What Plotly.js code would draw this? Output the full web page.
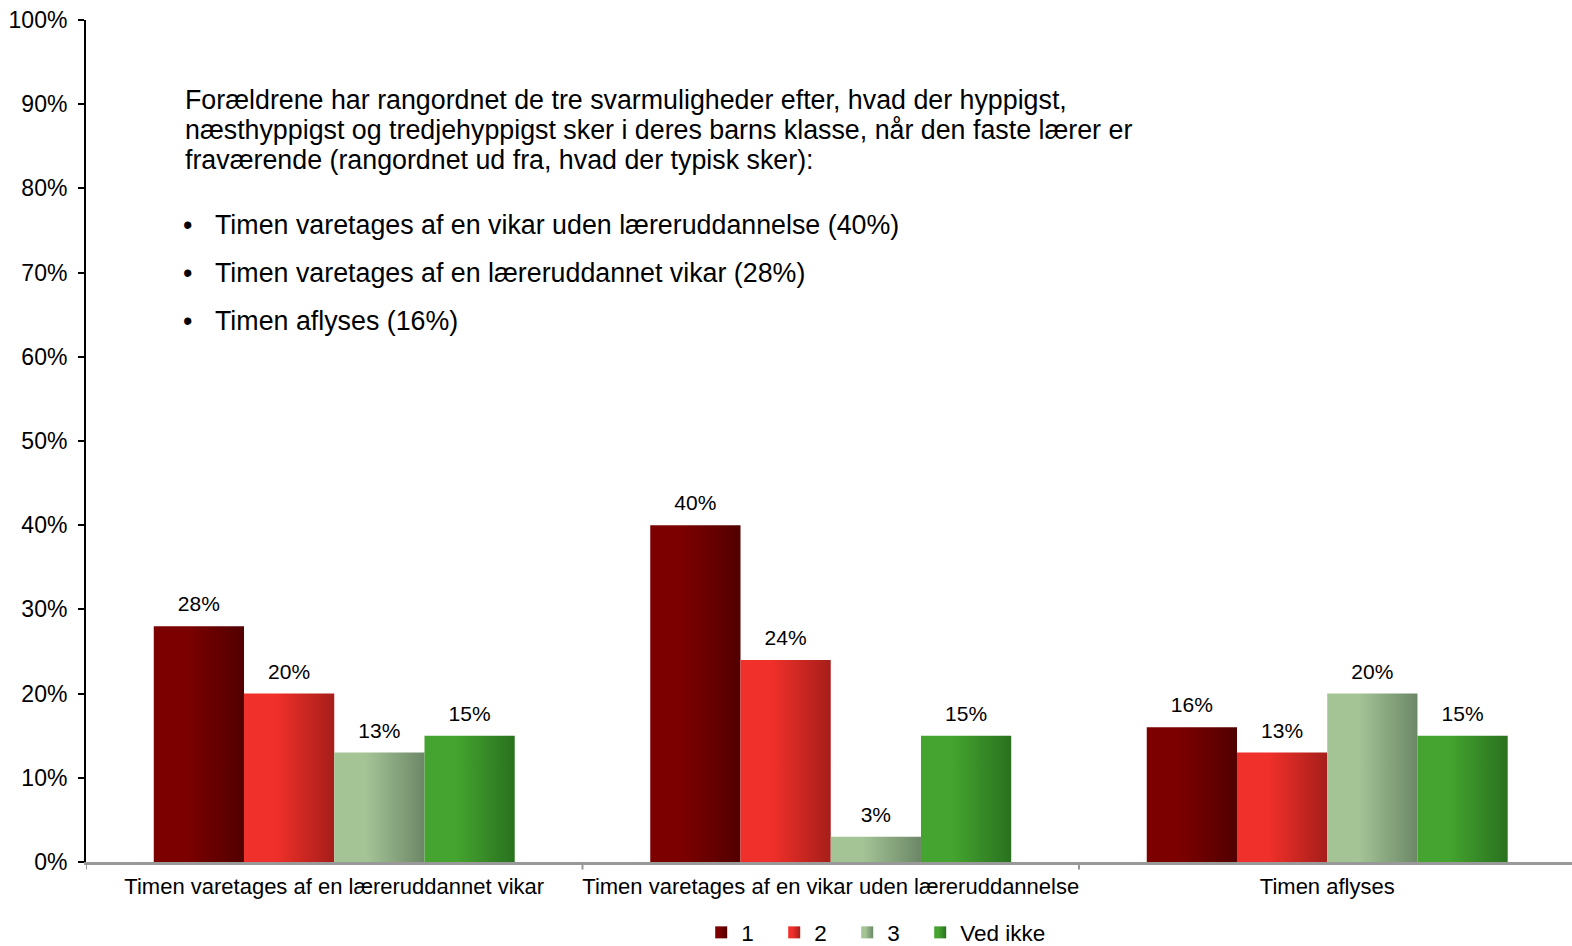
<!DOCTYPE html>
<html>
<head>
<meta charset="utf-8">
<script src="https://cdn.plot.ly/plotly-3.0.1.min.js"></script>
<style>
  body { margin: 0; background: #fff; }
  #chart { width: 1572px; height: 946px; }
</style>
</head>
<body>
<div id="chart"></div>
<script>
var categories = ['Timen varetages af en læreruddannet vikar',
                  'Timen varetages af en vikar uden læreruddannelse',
                  'Timen aflyses'];
var rank1 = [28, 40, 16];
var rank2 = [20, 24, 13];
var rank3 = [13, 3, 20];
var vedIkke = [15, 15, 15];

var seriesNames = ['1', '2', '3', 'Ved ikke'];
var seriesValues = [rank1, rank2, rank3, vedIkke];
// left/right colour of each bar's horizontal gradient
var gradStops = [
  ['#7c0000', '#520000'],
  ['#f0302a', '#a61e1a'],
  ['#a4c496', '#6c8767'],
  ['#44a42f', '#2a711f']
];

var introLines = [
  'Forældrene har rangordnet de tre svarmuligheder efter, hvad der hyppigst,',
  'næsthyppigst og tredjehyppigst sker i deres barns klasse, når den faste lærer er',
  'fraværende (rangordnet ud fra, hvad der typisk sker):'
];
var bullets = [
  'Timen varetages af en vikar uden læreruddannelse (40%)',
  'Timen varetages af en læreruddannet vikar (28%)',
  'Timen aflyses (16%)'
];

var fontFam = 'Arial, "Liberation Sans", sans-serif';

var data = seriesValues.map(function (vals, i) {
  return {
    type: 'bar',
    name: seriesNames[i],
    x: categories,
    y: vals,
    text: vals.map(function (v) { return v + '%'; }),
    textposition: 'outside',
    cliponaxis: false,
    textfont: { family: fontFam, size: 21, color: '#000' },
    marker: { color: gradStops[i][0], line: { width: 0 } },
    hoverinfo: 'skip'
  };
});

var annotations = [];
introLines.forEach(function (t, i) {
  annotations.push({
    xref: 'paper', yref: 'paper', x: 0.065, y: 0.905 - i * 0.0356,
    xanchor: 'left', yanchor: 'middle', showarrow: false, text: t,
    font: { family: fontFam, size: 26.8, color: '#000' }
  });
});
bullets.forEach(function (t, i) {
  var yy = 0.757 - i * 0.057;
  annotations.push({
    xref: 'paper', yref: 'paper', x: 0.064, y: yy,
    xanchor: 'left', yanchor: 'middle', showarrow: false, text: '•',
    font: { family: fontFam, size: 26.8, color: '#000' }
  });
  annotations.push({
    xref: 'paper', yref: 'paper', x: 0.0855, y: yy,
    xanchor: 'left', yanchor: 'middle', showarrow: false, text: t,
    font: { family: fontFam, size: 26.8, color: '#000' }
  });
});

var layout = {
  width: 1572,
  height: 946,
  margin: { l: 86, r: 0, t: 20, b: 84, autoexpand: false },
  paper_bgcolor: '#fff',
  plot_bgcolor: '#fff',
  font: { family: fontFam, size: 22, color: '#000' },
  barmode: 'group',
  bargap: 0.273,
  bargroupgap: 0,
  showlegend: true,
  legend: {
    orientation: 'h', x: 0.414, xanchor: 'left', y: -0.084, yanchor: 'middle',
    font: { family: fontFam, size: 22.5, color: '#000' },
    entrywidth: 28, entrywidthmode: 'pixels', itemwidth: 30, traceorder: 'normal'
  },
  xaxis: {
    range: [-0.5, 2.493],
    showline: true, linecolor: '#999', linewidth: 3,
    ticks: '', showgrid: false, zeroline: false, ticklabelstandoff: 3,
    tickfont: { family: fontFam, size: 22, color: '#000' }
  },
  yaxis: {
    range: [0, 100], dtick: 10, ticksuffix: '%',
    showline: true, linecolor: '#000', linewidth: 2,
    ticks: 'outside', ticklen: 6, tickcolor: '#000', tickwidth: 2,
    showgrid: false, zeroline: false, ticklabelstandoff: 6,
    tickfont: { family: fontFam, size: 23, color: '#000' }
  },
  shapes: [0, 1, 2].map(function (k) {
    // category boundary ticks under the x axis
    return {
      type: 'line', xref: 'x', yref: 'paper', x0: k - 0.5, x1: k - 0.5,
      y0: 0, y1: -0.009, line: { color: '#999', width: 2 }
    };
  }),
  annotations: annotations
};

Plotly.newPlot('chart', data, layout, { displayModeBar: false, staticPlot: true }).then(function (gd) {
  var svg = gd.querySelector('svg.main-svg');
  var defs = svg.querySelector('defs');
  var ns = 'http://www.w3.org/2000/svg';
  gradStops.forEach(function (stops, i) {
    var g = document.createElementNS(ns, 'linearGradient');
    g.setAttribute('id', 'barGrad' + i);
    g.setAttribute('x1', '0'); g.setAttribute('x2', '1');
    g.setAttribute('y1', '0'); g.setAttribute('y2', '0');
    [[0, stops[0]], [0.35, stops[0]], [1, stops[1]]].forEach(function (s) {
      var st = document.createElementNS(ns, 'stop');
      st.setAttribute('offset', s[0]);
      st.setAttribute('stop-color', s[1]);
      g.appendChild(st);
    });
    defs.appendChild(g);
  });
  gd.querySelectorAll('.barlayer .trace').forEach(function (tr, i) {
    tr.querySelectorAll('path').forEach(function (p) {
      p.style.fill = 'url(#barGrad' + i + ')';
    });
  });
  gd.querySelectorAll('.legend .traces').forEach(function (tr, i) {
    tr.querySelectorAll('.legendpoints path').forEach(function (p) {
      p.style.fill = 'url(#barGrad' + i + ')';
    });
  });
  // lift the value labels a bit further above the bars
  gd.querySelectorAll('.barlayer text.bartext').forEach(function (t) {
    t.setAttribute('transform', (t.getAttribute('transform') || '') + ' translate(0,-8)');
  });
  // let the last legend entry run past the fixed entry width
  gd.querySelectorAll('.legend [clip-path]').forEach(function (el) {
    el.removeAttribute('clip-path');
  });
});
</script>
</body>
</html>
